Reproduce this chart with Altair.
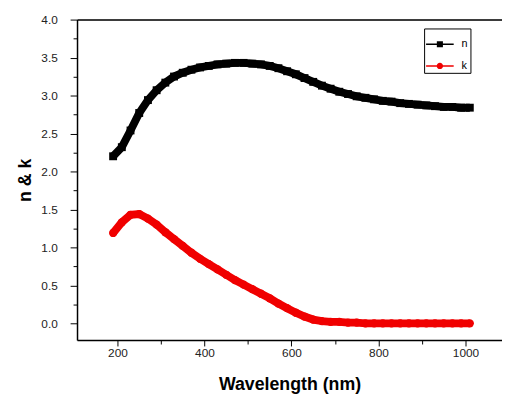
import altair as alt
import pandas as pd

wavelength = [190, 210, 230, 250, 270, 290, 310, 330, 350, 370, 390, 410, 430, 450, 470, 490,
              510, 530, 550, 570, 590, 610, 630, 650, 670, 690, 710, 730, 750, 770, 790, 810,
              830, 850, 870, 890, 910, 930, 950, 970, 990, 1010]
n_vals = [2.20, 2.32, 2.54, 2.77, 2.94, 3.07, 3.17, 3.25, 3.30, 3.34, 3.37, 3.39, 3.41, 3.42, 3.43, 3.43,
          3.42, 3.41, 3.39, 3.36, 3.32, 3.28, 3.23, 3.18, 3.13, 3.09, 3.05, 3.02, 2.99, 2.97, 2.95, 2.93,
          2.92, 2.90, 2.89, 2.88, 2.87, 2.86, 2.85, 2.85, 2.84, 2.84]
k_vals = [1.19, 1.33, 1.43, 1.44, 1.38, 1.30, 1.20, 1.11, 1.02, 0.93, 0.85, 0.78, 0.71, 0.64, 0.57, 0.51,
          0.45, 0.39, 0.33, 0.26, 0.20, 0.14, 0.09, 0.05, 0.03, 0.02, 0.02, 0.01, 0.01, 0.0, 0.0, 0.0,
          0.0, 0.0, 0.0, 0.0, 0.0, 0.0, 0.0, 0.0, 0.0, 0.0]
series_names = ["n", "k"]
series_colors = ["#000000", "#f00000"]
x_ticks = [200, 300, 400, 500, 600, 700, 800, 900, 1000]
y_ticks = [0.0, 0.25, 0.5, 0.75, 1.0, 1.25, 1.5, 1.75, 2.0, 2.25, 2.5, 2.75, 3.0, 3.25, 3.5, 3.75, 4.0]

df = pd.DataFrame({
    "wl": wavelength * 2,
    "val": n_vals + k_vals,
    "series": ["n"] * len(wavelength) + ["k"] * len(wavelength),
})

FONT = "Liberation Sans"
xs = alt.Scale(domain=[107, 1084], zero=False, nice=False)
ys = alt.Scale(domain=[-0.22, 4.0], zero=False, nice=False)

x_main = alt.X("wl:Q", scale=xs, axis=alt.Axis(
    orient="bottom", values=x_ticks, grid=False,
    labelExpr="datum.value % 200 === 0 ? format(datum.value, 'd') : ''",
    tickSize={"condition": {"test": "datum.value % 200 === 0", "value": 6}, "value": 4},
    tickColor="black", domainColor="black", tickWidth=1, domainWidth=1.5,
    labelFont=FONT, labelFontSize=12, labelColor="#222", labelPadding=2, labelOverlap=False,
    title="Wavelength (nm)", titleFont=FONT, titleFontSize=18, titleFontWeight="bold",
    titleColor="black", titlePadding=17))
x_hidden = alt.X("wl:Q", scale=xs, axis=None)
x_top = alt.X("wl:Q", scale=xs, axis=alt.Axis(orient="top", labels=False, ticks=False, grid=False,
                                              title=None, domainColor="black", domainWidth=1.5))

half = "abs(datum.value*2 - round(datum.value*2)) < 0.001"
y_enc = alt.Y("val:Q", scale=ys, axis=alt.Axis(
    orient="left", values=y_ticks, grid=False,
    labelExpr=f"{half} ? format(datum.value, '.1f') : ''",
    tickSize={"condition": {"test": half, "value": 7}, "value": 4},
    tickColor="black", domainColor="black", tickWidth=1, domainWidth=1.5,
    labelFont=FONT, labelFontSize=12, labelColor="#222", labelPadding=13, labelOverlap=False,
    title="n & k", titleFont=FONT, titleFontSize=18, titleFontWeight="bold",
    titleColor="black", titlePadding=6))

base = alt.Chart(df)
n_df = base.transform_filter("datum.series == 'n'")
k_df = base.transform_filter("datum.series == 'k'")

n_line = n_df.mark_line(color=series_colors[0], strokeWidth=8).encode(x=x_main, y=y_enc)
n_pts = n_df.mark_point(shape="square", filled=True, size=64, color=series_colors[0], opacity=1).encode(x=x_hidden, y=y_enc)
k_line = k_df.mark_line(color=series_colors[1], strokeWidth=8).encode(x=x_hidden, y=y_enc)
k_pts = k_df.mark_point(shape="circle", filled=True, size=70, color=series_colors[1], opacity=1).encode(x=x_hidden, y=y_enc)

sq_path = "M-1,-0.05L1,-0.05L1,0.05L-1,0.05Z M-0.22,-0.22L0.22,-0.22L0.22,0.22L-0.22,0.22Z"
ci_path = "M-1,-0.05L1,-0.05L1,0.05L-1,0.05Z M0.23,0 A0.23,0.23 0 1,1 -0.23,0 A0.23,0.23 0 1,1 0.23,0Z"
leg = alt.Legend(title=None, orient="none", legendX=352, legendY=9, strokeColor="black",
                 padding=2, symbolSize=784, symbolOpacity=1, symbolStrokeWidth=0,
                 labelFont=FONT, labelFontSize=11, labelColor="black", rowPadding=3, labelOffset=8)
legend_layer = base.mark_point(filled=True, opacity=0).encode(
    x=x_hidden, y=y_enc,
    color=alt.Color("series:N", scale=alt.Scale(domain=series_names, range=series_colors), legend=leg),
    shape=alt.Shape("series:N", scale=alt.Scale(domain=series_names, range=[sq_path, ci_path]), legend=leg),
)
top_layer = base.mark_point(opacity=0).encode(x=x_top, y=y_enc)

chart = alt.layer(n_line, n_pts, k_line, k_pts, legend_layer, top_layer).resolve_axis(
    x="independent"
).properties(
    width=431, height=325,
    padding={"left": 70, "top": 9, "right": 0, "bottom": 56},
    autosize=alt.AutoSizeParams(type="none"),
).configure_view(stroke=None).configure(background="white")

chart.save("out.html", embed_options={"renderer": "svg", "actions": False})
